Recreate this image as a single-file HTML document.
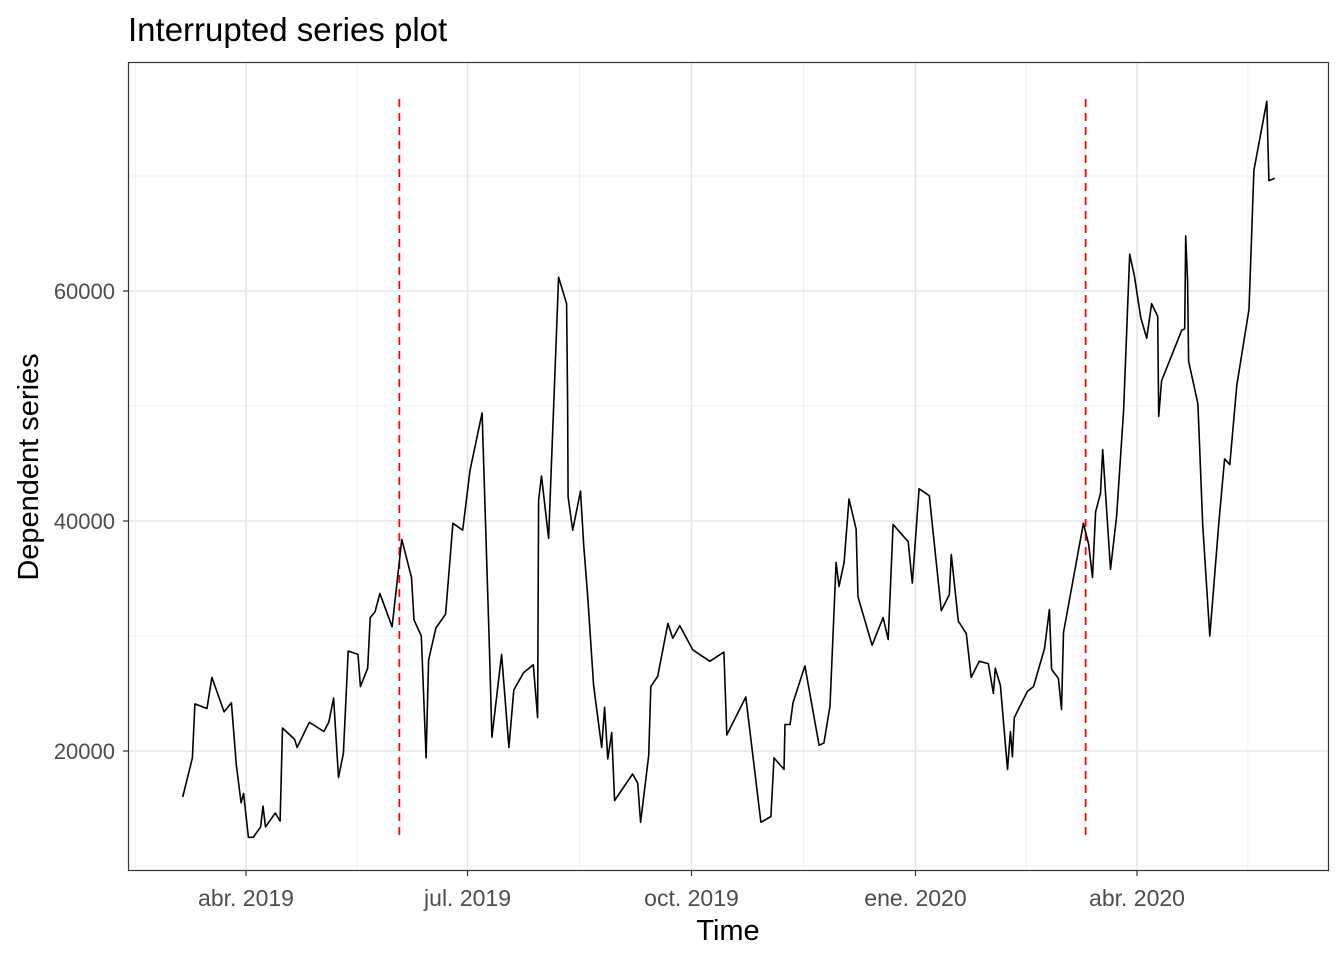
<!DOCTYPE html>
<html><head><meta charset="utf-8"><style>
body{margin:0;background:#fff;}
svg{display:block;font-family:"Liberation Sans",Arial,sans-serif;}
</style></head><body>
<svg id="chart" width="1344" height="960" viewBox="0 0 1344 960">
<rect width="1344" height="960" fill="#fff"/>
<text x="128" y="41" font-size="33" fill="#000">Interrupted series plot</text>
<g id="grid"></g>
<g id="marks"></g>
<rect x="128.5" y="62.5" width="1200" height="808" fill="none" stroke="#333" stroke-width="1.2"/>
<g id="axes"></g>
<text x="728" y="940" font-size="29" text-anchor="middle" fill="#000">Time</text>
<text transform="translate(38,467) rotate(-90)" font-size="29" text-anchor="middle" fill="#000">Dependent series</text>
</svg>
<script>
// days since 2019-04-01
const days=[-26,-22,-21,-16,-14,-9,-6,-4,-2,-1,1,3,6,7,8,12,14,15,20,21,26,32,34,36,38,40,42,46,47,50,51,53,55,60,64,68,69,72,74,75,78,82,85,89,92,97,100,101,105,108,110,114,118,119.8,120.2,121.4,124.3,128.4,131.7,132.1,132.3,134.2,137.4,138.7,140.3,142.8,146.1,147.3,148.6,150.2,151.4,158.8,160.9,162.1,165.4,166.3,169.1,173.3,175.3,178.2,183.5,190.5,196.3,197.5,205.3,211.5,215.6,216.9,221,221.4,223.5,224.7,229.6,235.4,237.4,239.9,242.4,243.6,245.7,247.7,250.6,251.4,257.2,261.7,263.8,265.8,272,273.7,276.5,280.7,285.6,288.9,289.7,292.6,295.9,297.9,301.2,304.9,307,307.8,309.9,312.8,314,314.8,315.6,321,323.5,328,330,330.9,333.7,335,335.8,344,346.1,347.7,349,351,351.9,355.1,357.6,360.5,363,365,367.5,370,372,374.5,374.9,376.1,384.4,385.6,386,386.8,387.2,391,393,395.9,399.6,402,404.1,407,412,414,419.3,420.2,422.6];
const values=[16000,19400,24100,23700,26400,23400,24200,18800,15500,16300,12500,12500,13400,15200,13400,14600,13900,22000,21000,20300,22500,21700,22500,24600,17700,19800,28700,28400,25600,27200,31600,32100,33700,30800,38400,35100,31400,30000,19400,27900,30700,31900,39800,39200,44400,49400,29000,21200,28400,20300,25300,26800,27500,22900,41800,43900,38500,61200,58900,50500,42100,39200,42600,37900,33700,25700,20300,23800,19300,21600,15700,18000,17200,13800,19600,25600,26500,31100,29800,30900,28800,27800,28600,21400,24700,13800,14300,19400,18400,22300,22300,24200,27400,20500,20700,23900,36400,34300,36400,41900,39300,33400,29200,31600,29700,39700,38200,34600,42800,42200,32200,33600,37100,31300,30200,26400,27800,27600,25000,27200,25700,18400,21700,19500,22900,25200,25600,28900,32300,27100,26300,23600,30300,39800,38000,35100,40800,42400,46200,35800,40400,49600,63200,61200,57700,55900,58900,57800,49100,52200,56600,56700,64800,60800,53900,50200,39700,30000,39800,45400,44900,51800,58400,70500,76500,69600,69800];
const interventionDays=[63,344.9];
const interventionRange=[12500,76700];
const xTickDays=[0,91,183,275,366];
const xTickLabels=["abr. 2019","jul. 2019","oct. 2019","ene. 2020","abr. 2020"];
const xMinorDays=[-45.5,45.5,137,229,320.5,411.5];
const yTicks=[20000,40000,60000];
const yMinor=[10000,30000,50000,70000];

const X=d=>246+d*(1137-246)/366;
const Y=v=>751-(v-20000)*0.0115;
const NS="http://www.w3.org/2000/svg";
function mk(tag,attrs,parent){const e=document.createElementNS(NS,tag);for(const k in attrs)e.setAttribute(k,attrs[k]);parent.appendChild(e);return e;}
const grid=document.getElementById('grid'),marks=document.getElementById('marks'),axes=document.getElementById('axes');
yMinor.forEach(v=>{const l=mk('line',{x1:128,x2:1329,y1:Y(v),y2:Y(v),stroke:'#f0f0f0','stroke-width':1},grid);

});
xMinorDays.forEach(d=>{const l=mk('line',{x1:X(d),x2:X(d),y1:62,y2:871,stroke:'#f0f0f0','stroke-width':1},grid);

});
yTicks.forEach(v=>{const l=mk('line',{x1:128,x2:1329,y1:Y(v),y2:Y(v),stroke:'#e6e6e6','stroke-width':1.6},grid);


const t=mk('line',{x1:123,x2:128,y1:Y(v),y2:Y(v),stroke:'#333','stroke-width':1.2},axes);


const tx=mk('text',{x:115,y:Y(v)+8,'font-size':22,'text-anchor':'end',fill:'#4d4d4d'},axes);tx.textContent=v;

});
xTickDays.forEach((d,i)=>{const l=mk('line',{x1:X(d),x2:X(d),y1:62,y2:871,stroke:'#e6e6e6','stroke-width':1.6},grid);


const t=mk('line',{x1:X(d),x2:X(d),y1:871,y2:876,stroke:'#333','stroke-width':1.2},axes);


const tx=mk('text',{x:X(d),y:906,'font-size':23,'text-anchor':'middle',fill:'#4d4d4d'},axes);tx.textContent=xTickLabels[i];

});
interventionDays.forEach(d=>{const l=mk('line',{x1:X(d),x2:X(d),y1:Y(interventionRange[1]),y2:Y(interventionRange[0]),stroke:'#ff0000','stroke-width':1.8,'stroke-dasharray':'8,6'},marks);

});
const pts=days.map((d,i)=>X(d).toFixed(1)+','+Y(values[i]).toFixed(1)).join(' ');
const p=mk('polyline',{points:pts,fill:'none',stroke:'#000','stroke-width':1.6,'stroke-linejoin':'round'},marks);


</script>
</body></html>
